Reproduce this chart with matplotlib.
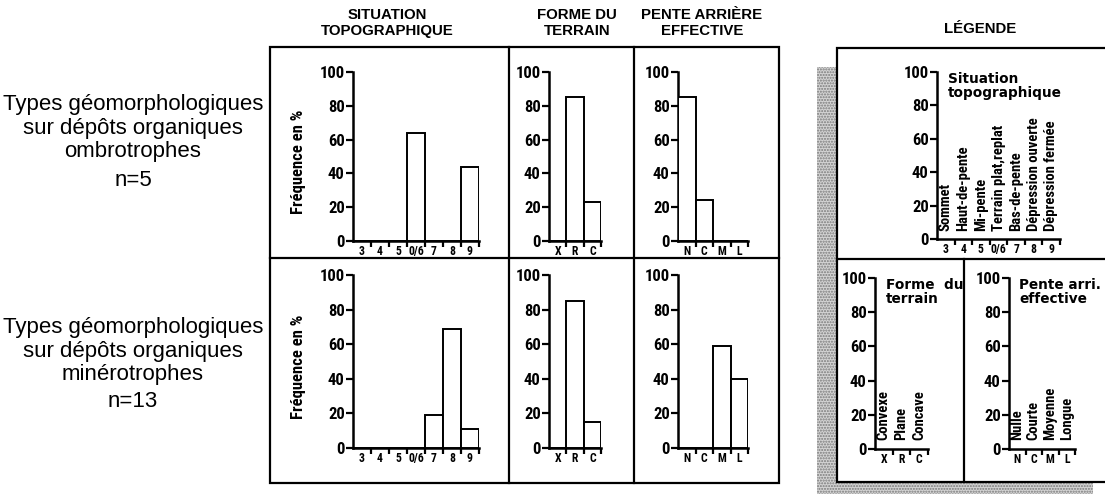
import matplotlib
matplotlib.use("Agg")
import matplotlib.pyplot as plt
from matplotlib import font_manager
from matplotlib.patches import Rectangle

# ---------------- data ----------------
topo_cats = ['3', '4', '5', '0/6', '7', '8', '9']
forme_cats = ['X', 'R', 'C']
pente_cats = ['N', 'C', 'M', 'L']

topo_ombro = [0, 0, 0, 64, 0, 0, 44]
forme_ombro = [0, 85, 23]
pente_ombro = [85, 24, 0, 0]

topo_minero = [0, 0, 0, 0, 19, 69, 11]
forme_minero = [0, 85, 15]
pente_minero = [0, 0, 59, 40]

yticks = [0, 20, 40, 60, 80, 100]

topo_legend = ['Sommet', 'Haut-de-pente', 'Mi-pente', 'Terrain plat,replat',
               'Bas-de-pente', 'Dépression ouverte', 'Dépression fermée']
forme_legend = ['Convexe', 'Plane', 'Concave']
pente_legend = ['Nulle', 'Courte', 'Moyenne', 'Longue']

row_labels = ['Types géomorphologiques\nsur dépôts organiques\nombrotrophes',
              'Types géomorphologiques\nsur dépôts organiques\nminérotrophes']
row_n = ['n=5', 'n=13']

# ---------------- fonts ----------------
names = {f.name for f in font_manager.fontManager.ttflist}
NARROW = None
for cand in ['Liberation Sans Narrow', 'Roboto Condensed', 'Open Sans Condensed',
             'DejaVu Sans Condensed']:
    if cand in names:
        NARROW = cand
        break
if NARROW is None:
    NARROW = 'Liberation Sans'
SANS = 'Liberation Sans' if 'Liberation Sans' in names else 'DejaVu Sans'

# ---------------- figure ----------------
W, H = 1105, 494
fig = plt.figure(figsize=(W / 100, H / 100), dpi=100)
fig.patch.set_facecolor('white')


def rect(x0, y0, x1, y1):
    return [x0 / W, 1 - y1 / H, (x1 - x0) / W, (y1 - y0) / H]


bg = fig.add_axes([0, 0, 1, 1])
bg.set_xlim(0, W)
bg.set_ylim(H, 0)
bg.axis('off')

LW = 1.6
# main frame
bg.add_patch(Rectangle((270, 47), 509, 436, fill=False, lw=LW, ec='black'))
bg.plot([270, 779], [258, 258], color='black', lw=LW)
bg.plot([509, 509], [47, 483], color='black', lw=LW)
bg.plot([634, 634], [47, 483], color='black', lw=LW)

# legend frame with stippled shadow
bg.add_patch(Rectangle((817, 67), 276, 440, facecolor='#d4d4d4', ec='#7a7a7a',
                       hatch='......', lw=0))
bg.add_patch(Rectangle((837, 48), 300, 434, facecolor='white', lw=LW, ec='black'))
bg.plot([837, 1105], [259, 259], color='black', lw=LW)
bg.plot([964, 964], [259, 482], color='black', lw=LW)

# headers
hdr = dict(ha='center', va='center', fontsize=10.8, fontweight='bold',
           family=SANS, linespacing=1.1)
bg.text(387, 23, 'SITUATION\nTOPOGRAPHIQUE', **hdr)
bg.text(577, 23, 'FORME DU\nTERRAIN', **hdr)
bg.text(702, 23, 'PENTE ARRIÈRE\nEFFECTIVE', **hdr)
bg.text(980, 29, 'LÉGENDE', **hdr)

# row labels
for lab, n, yc, yn in zip(row_labels, row_n, [128, 351], [180, 401]):
    bg.text(133, yc, lab, ha='center', va='center', fontsize=16,
            family=SANS, linespacing=1.17)
    bg.text(133, yn, n, ha='center', va='center', fontsize=16, family=SANS)


def style_axes(ax, cats, ytick_size=12):
    n = len(cats)
    ax.set_xlim(0, n)
    ax.set_ylim(0, 100)
    for s in ['top', 'right']:
        ax.spines[s].set_visible(False)
    for s in ['left', 'bottom']:
        ax.spines[s].set_linewidth(1.8)
    ax.set_facecolor('none')
    ax.set_yticks(yticks)
    ax.set_yticklabels([str(v) for v in yticks], family=NARROW,
                       fontweight='bold', fontsize=ytick_size)
    ax.tick_params(axis='y', direction='out', length=5, width=1.6, pad=1)
    ax.set_xticks([i + 0.5 for i in range(n)])
    ax.set_xticklabels(cats, family=NARROW, fontweight='bold', fontsize=8.5)
    ax.tick_params(axis='x', which='major', length=0, pad=3)
    ax.set_xticks(list(range(1, n + 1)), minor=True)
    ax.tick_params(axis='x', which='minor', direction='out', length=4, width=1.6)


def bars(ax, vals):
    ax.bar(range(len(vals)), vals, width=1, align='edge', facecolor='white',
           edgecolor='black', linewidth=1.4, zorder=3)


# data panels: (x0, x1) for each column, (ytop, ybottom) for each row
cols = [(353, 479, topo_cats), (549, 601, forme_cats), (678, 748, pente_cats)]
rows = [(72, 241, [topo_ombro, forme_ombro, pente_ombro]),
        (275, 448, [topo_minero, forme_minero, pente_minero])]

for ytop, ybot, series in rows:
    for (x0, x1, cats), vals in zip(cols, series):
        ax = fig.add_axes(rect(x0, ytop, x1, ybot))
        style_axes(ax, cats)
        bars(ax, vals)
        if cats is topo_cats:
            ax.set_ylabel('Fréquence en %', family=NARROW, fontweight='bold',
                          fontsize=12)
            ax.yaxis.set_label_coords(-0.37, 0.47)

LEG = dict(rotation=90, ha='center', va='bottom', family=NARROW,
           fontweight='bold', fontsize=10.5)
TTL = dict(ha='left', va='top', family='DejaVu Sans', fontweight='bold',
           fontsize=9.8, linespacing=1.0)

# legend panels
axl = fig.add_axes(rect(937, 72, 1060, 239))
style_axes(axl, topo_cats)
for i, t in enumerate(topo_legend):
    axl.text(i + 0.5, 5, t, **LEG)
axl.text(0.09, 1.0, 'Situation\ntopographique', transform=axl.transAxes, **TTL)

axf = fig.add_axes(rect(875, 278, 928, 449))
style_axes(axf, forme_cats)
for i, t in enumerate(forme_legend):
    axf.text(i + 0.5, 5, t, **LEG)
axf.text(0.2, 1.0, 'Forme  du\nterrain', transform=axf.transAxes, **TTL)

axp = fig.add_axes(rect(1009, 278, 1075, 449))
style_axes(axp, pente_cats)
for i, t in enumerate(pente_legend):
    axp.text(i + 0.5, 5, t, **LEG)
axp.text(0.15, 1.0, 'Pente arri.\neffective', transform=axp.transAxes, **TTL)

fig.savefig('out.png', dpi=100)
